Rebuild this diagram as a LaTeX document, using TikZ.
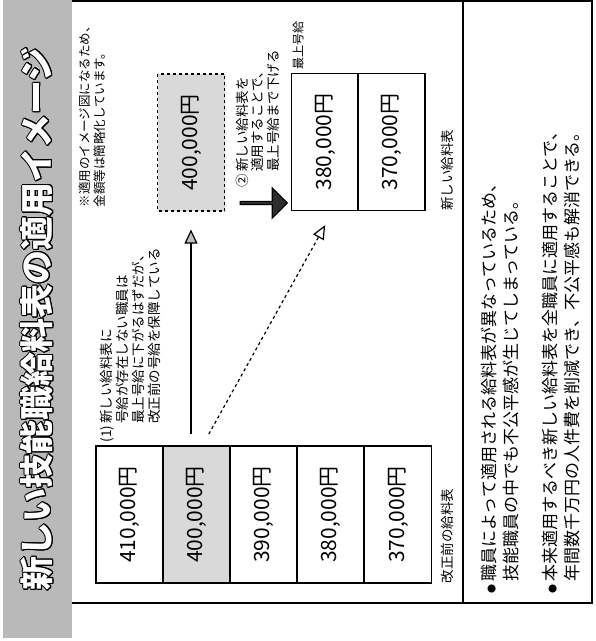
\documentclass[tikz,border=0pt]{standalone}
\usepackage{fontspec}
\setmainfont{Noto Sans CJK JP}
\usepackage{tikz}
\usepackage[copies]{contour}
\usetikzlibrary{arrows.meta}
\usetikzlibrary{shapes.arrows}
\contourlength{1pt}

\begin{document}
\begin{tikzpicture}[x=1pt,y=-1pt,line width=1.2pt]
  \tikzstyle{every node}=[font=\fontsize{13.5}{15}\selectfont]
  \tikzstyle{cell}=[draw,rotate=90,minimum width=137pt,minimum height=67pt,
                    inner sep=0pt,font=\fontsize{21}{21}\selectfont]
  \tikzstyle{note}=[rotate=90,anchor=north west,align=left,inner sep=0pt]
  \useasboundingbox (0,0) rectangle (596,641);

  % banner and frame
  \node[fill=gray!55,rotate=90,minimum width=638pt,minimum height=69pt,text=white,
        font=\fontsize{34}{34}\selectfont\bfseries] (T) at (37.5,319)
        {\contour{black}{新しい技能職給料表の適用イメージ}};
  \draw (72,1) -- (592,1) -- (592,603) -- (72,603);
  \draw (463,1) -- (463,603);
  \node[note,font=\fontsize{12.5}{15}\selectfont] (N) at (78,208)
        {※適用のイメージ図になるため、\\金額等は簡略化しています。};

  % old table
  \node[cell]              (o1) at (129.5,514.5) {410,000円};
  \node[cell,fill=gray!30] (o2) at (196.5,514.5) {400,000円};
  \node[cell]              (o3) at (263.5,514.5) {390,000円};
  \node[cell]              (o4) at (330.5,514.5) {380,000円};
  \node[cell]              (o5) at (398,514.5)   {370,000円};
  \node[note] (L1) at ([xshift=8pt]o5.south west) {改正前の給料表};

  % new table
  \node[cell,dashed,fill=gray!30] (P) at (191,142.5) {400,000円};
  \node[cell] (n1) at (325,142)   {380,000円};
  \node[cell] (n2) at (391.5,142) {370,000円};
  \node[note] (L2) at ([xshift=15pt]n2.south west) {新しい給料表};
  \node[note,font=\fontsize{12}{12}\selectfont] (M) at ([xshift=1pt,yshift=3pt]n1.north east) {最上号給};

  % notes
  \node[note] (c1) at (100,443)
        {\begin{tabular}{@{}l@{\,}l@{}}(1) & 新しい給料表に\\
          & 号給が存在しない職員は\\ & 最上号給に下がるはずだが、\\
          & 改正前の号給を保障している\end{tabular}};
  \node[note] (c2) at (235,188)
        {\begin{tabular}{@{}l@{\,}l@{}}② & 新しい給料表を\\
          & 適用することで、\\ & 最上号給まで下げる\end{tabular}};
  \node[single arrow,draw,fill=gray!35!black,minimum height=47pt,minimum width=30pt,
        single arrow head extend=5pt,inner sep=0pt] (B) at (263,203) {};

  \draw[-{Triangle[length=14pt,width=13pt,fill=gray!50]},shorten <=11pt,shorten >=18pt]
        (o2.east -| P.west) -- (P.west);
  \draw[dashed,-{Triangle[open,length=14pt,width=12pt]},shorten <=13pt,shorten >=16pt]
        ([xshift=6pt]o2.east) -- ([xshift=8pt]n1.west);

  % bottom text
  \node[note,font=\fontsize{17}{22}\selectfont] (t1) at (479,594)
        {\begin{tabular}{@{}l@{\,}l@{}}{\small ●} & 職員によって適用される給料表が異なっているため、\\
          & 技能職員の中でも不公平感が生じてしまっている。\end{tabular}};
  \node[note,font=\fontsize{17}{22}\selectfont] (t2) at (540,594)
        {\begin{tabular}{@{}l@{\,}l@{}}{\small ●} & 本来適用するべき新しい給料表を全職員に適用することで、\\
          & 年間数千万円の人件費を削減でき、不公平感も解消できる。\end{tabular}};
\end{tikzpicture}
\end{document}
